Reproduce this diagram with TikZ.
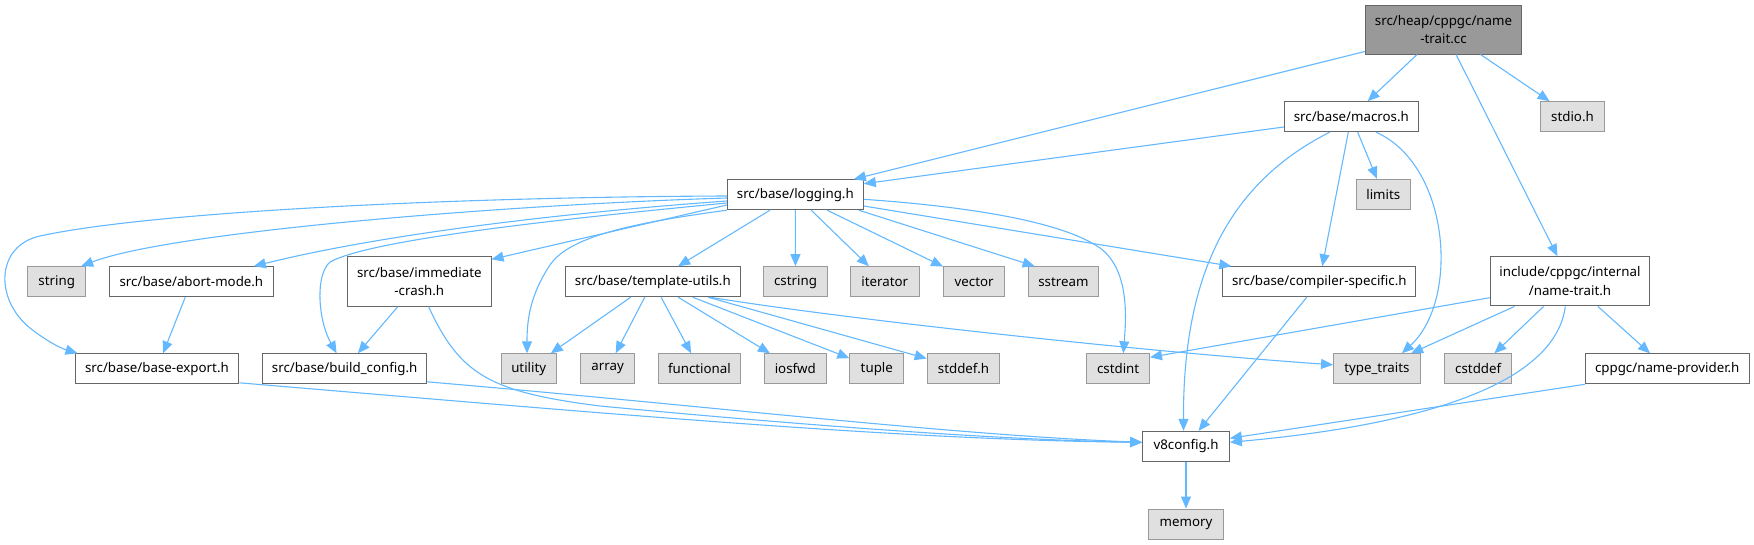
\documentclass[tikz,border=0pt]{standalone}
\usepackage{fontspec}
\setmainfont{Noto Sans}
\usetikzlibrary{arrows.meta}
\definecolor{edgeblue}{HTML}{63B8FF}
\definecolor{boxline}{HTML}{666666}
\definecolor{sysline}{HTML}{999999}
\definecolor{sysfill}{HTML}{E0E0E0}
\definecolor{rootfill}{HTML}{999999}

\tikzset{
  incl/.style={draw=boxline, fill=white, line width=1pt, inner sep=0pt,
    minimum height=30pt, align=center, font=\fontsize{13.3}{18.7}\selectfont},
  sysinc/.style={incl, draw=sysline, fill=sysfill},
  rootfile/.style={incl, fill=rootfill, minimum height=49pt},
  twoline/.style={minimum height=49.3pt},
  dep/.style={draw=edgeblue, line width=1.1pt, -{Triangle[length=12pt,width=10pt]}}
}

\begin{document}
\begin{tikzpicture}[x=1pt, y=-1pt]

\useasboundingbox (0,0) rectangle (1754,544);

%---------------------------------------
% Files (rows from top to bottom)
%---------------------------------------
\node[rootfile, minimum width=156.5pt] (root) at (1443.5,29.5) {src/heap/cppgc/name\\-trait.cc};

\node[incl, minimum width=134pt]  (macros) at (1351.3,116.7) {src/base/macros.h};
\node[sysinc, minimum width=63.7pt] (stdio) at (1572.5,116.7) {stdio.h};

\node[incl, minimum width=136pt]  (logging) at (795.3,194.7) {src/base/logging.h};
\node[sysinc, minimum width=54.2pt] (limits) at (1383.3,194.3) {limits};

\node[sysinc, minimum width=58pt]   (string)    at (56.7,281.7)  {string};
\node[incl, minimum width=163.7pt]  (abortmode) at (191.4,281.7) {src/base/abort-mode.h};
\node[incl, twoline, minimum width=143.5pt] (immcrash) at (419.3,281.5) {src/base/immediate\\-crash.h};
\node[incl, minimum width=174.4pt]  (tmplutils) at (652.8,281.7) {src/base/template-utils.h};
\node[sysinc, minimum width=63.5pt] (cstring)   at (795.5,281.7) {cstring};
\node[sysinc, minimum width=68.5pt] (iterator)  at (884.8,281.7) {iterator};
\node[sysinc, minimum width=61.2pt] (vector)    at (974.2,281.7) {vector};
\node[sysinc, minimum width=70.5pt] (sstream)   at (1063.4,281.7) {sstream};
\node[incl, minimum width=192.8pt]  (compspec)  at (1319.3,281.7) {src/base/compiler-specific.h};
\node[incl, twoline, minimum width=159.5pt] (nametrait) at (1570,281.3) {include/cppgc/internal\\/name-trait.h};

\node[incl, minimum width=163.8pt]  (baseexport)  at (156.9,368.8)  {src/base/base-export.h};
\node[incl, minimum width=163.4pt]  (buildconfig) at (344.6,368.8)  {src/base/build\_config.h};
\node[sysinc, minimum width=55.4pt] (utility)     at (528.7,368.8)  {utility};
\node[sysinc, minimum width=53.5pt] (array)       at (607.6,368.8)  {array};
\node[sysinc, minimum width=82.6pt] (functional)  at (699.4,368.8)  {functional};
\node[sysinc, minimum width=61.6pt] (iosfwd)      at (795.3,368.8)  {iosfwd};
\node[sysinc, minimum width=54pt]   (tuple)       at (876.8,368.8)  {tuple};
\node[sysinc, minimum width=72.7pt] (stddef)      at (963.5,368.8)  {stddef.h};
\node[sysinc, minimum width=62.8pt] (cstdint)     at (1118.1,368.8) {cstdint};
\node[sysinc, minimum width=86.7pt] (typetraits)  at (1376.9,368.8) {type\_traits};
\node[sysinc, minimum width=67.4pt] (cstddef)     at (1478.2,368.8) {cstddef};
\node[incl, minimum width=163.6pt]  (nameprov)    at (1667.2,368.8) {cppgc/name-provider.h};

\node[incl, minimum width=86.8pt]   (v8config) at (1186,446.3) {v8config.h};
\node[sysinc, minimum width=74.6pt] (memory)   at (1186,524)   {memory};

%---------------------------------------
% Includes of name-trait.cc
%---------------------------------------
\draw[dep] ([yshift=3pt]root.south west) -- ([xshift=-10pt]logging.north east);
\draw[dep] (root) -- (macros);
\draw[dep] (root) -- (stdio);
\draw[dep] (root) -- (nametrait);

%---------------------------------------
% macros.h
%---------------------------------------
\draw[dep] ([yshift=-10.3pt]macros.west) -- ([yshift=11pt]logging.east);
\draw[dep] ([xshift=-21.6pt]macros.south)
      .. controls (1225,185) and (1183,280) .. ([xshift=-2.5pt]v8config.north);
\draw[dep] (macros) -- (compspec);
\draw[dep] (macros) -- (limits);
\draw[dep] ([xshift=24.7pt]macros.south)
      .. controls (1450,165) and (1460,300) .. ([xshift=25pt]typetraits.north);

%---------------------------------------
% logging.h
%---------------------------------------
% ---- to the left ----
\draw[dep] ([yshift=-1.3pt]logging.west)
      .. controls (450,197) and (150,212) .. (40,236)
      .. controls (-5,246) and (-5,300) .. (30,328)
      .. controls (45,340) and (60,348) .. ([xshift=3pt]baseexport.north west);
\draw[dep] ([yshift=-3.3pt]logging.west)
      .. controls (500,205) and (170,232) .. ([xshift=-5pt]string.north east);
\draw[dep] ([yshift=-6.3pt]logging.west)
      .. controls (600,210) and (400,230) .. ([xshift=-20pt]abortmode.north east);
\draw[dep] ([yshift=-8.3pt]logging.west)
      .. controls (550,220) and (370,240) .. (330,262)
      .. controls (315,275) and (318,320) .. ([xshift=-8pt]buildconfig.north);
\draw[dep] ([yshift=-10.3pt]logging.west) -- ([yshift=-3pt]immcrash.north east);
\draw[dep] (logging.south west)
      .. controls (640,222) and (570,235) .. (550,265)
      .. controls (530,295) and (527,320) .. ([xshift=-1.7pt]utility.north);

% ---- straight below ----
\draw[dep] (logging) -- (tmplutils);
\draw[dep] (logging) -- (cstring);
\draw[dep] (logging) -- (iterator);
\draw[dep] (logging) -- (vector);
\draw[dep] ([xshift=-5pt]logging.south east) -- ([xshift=7pt]sstream.north west);

% ---- to the right ----
\draw[dep] ([yshift=-11.3pt]logging.east) -- ([xshift=9pt]compspec.north west);
\draw[dep] ([yshift=-4.6pt]logging.east)
      .. controls (960,206) and (1060,220) .. (1100,248)
      .. controls (1130,270) and (1126,320) .. ([xshift=5.2pt]cstdint.north);

%---------------------------------------
% template-utils.h
%---------------------------------------
\draw[dep] (tmplutils) -- (utility);
\draw[dep] (tmplutils) -- (array);
\draw[dep] (tmplutils) -- (functional);
\draw[dep] (tmplutils) -- (iosfwd);
\draw[dep] (tmplutils) -- (tuple);
\draw[dep] (tmplutils) -- (stddef);
\draw[dep] ([xshift=57pt]tmplutils.south)
      .. controls (850,320) and (1150,352) .. ([yshift=4pt]typetraits.west);

%---------------------------------------
% Down to v8config.h
%---------------------------------------
\draw[dep] (abortmode) -- (baseexport);
\draw[dep] (immcrash) -- (buildconfig);
\draw[dep] ([xshift=9.3pt]immcrash.south)
      .. controls (460,375) and (490,392) .. (600,406)
      .. controls (800,425) and (1000,440) .. ([yshift=4pt]v8config.west);
\draw[dep] ([yshift=-14pt]baseexport.east)
      .. controls (600,413) and (900,440) .. ([yshift=4pt]v8config.west);
\draw[dep] ([yshift=-13pt]buildconfig.east)
      .. controls (700,405) and (950,435) .. ([yshift=4pt]v8config.west);
\draw[dep] (compspec) -- (v8config);

%---------------------------------------
% name-trait.h
%---------------------------------------
\draw[dep] (nametrait) -- (typetraits);
\draw[dep] (nametrait) -- (cstddef);
\draw[dep] (nametrait) -- (nameprov);
\draw[dep] ([yshift=-16.4pt]nametrait.west) -- ([yshift=-4pt]cstdint.north east);
\draw[dep] ([xshift=-4.7pt]nametrait.south)
      .. controls (1555,385) and (1420,425) .. ([yshift=4pt]v8config.east);
\draw[dep] (nameprov.south west) -- ([yshift=8pt]v8config.east);

\draw[dep] (v8config) -- (memory);

\end{tikzpicture}
\end{document}
